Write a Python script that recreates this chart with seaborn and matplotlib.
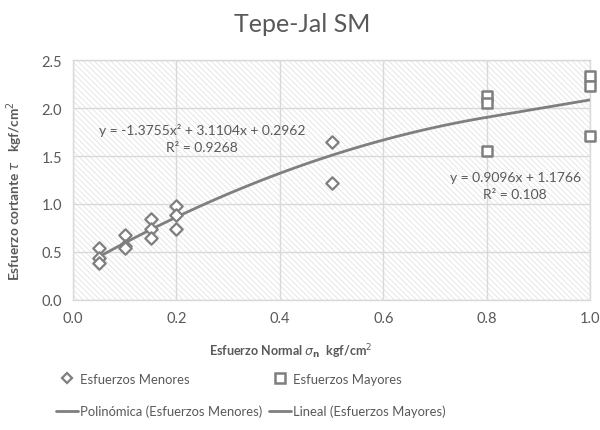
import numpy as np
import matplotlib
matplotlib.use("Agg")
import matplotlib.pyplot as plt
from matplotlib.patches import Rectangle
from matplotlib.lines import Line2D
import seaborn as sns

# ---- data ----
men_x = [0.05, 0.05, 0.05, 0.10, 0.10, 0.10, 0.15, 0.15, 0.15, 0.20, 0.20, 0.20, 0.50, 0.50]
men_y = [0.54, 0.44, 0.38, 0.68, 0.56, 0.54, 0.84, 0.74, 0.64, 0.98, 0.88, 0.74, 1.65, 1.22]
may_x = [0.8, 0.8, 0.8, 1.0, 1.0, 1.0]
may_y = [2.13, 2.05, 1.55, 2.33, 2.23, 1.71]
poly_coef = [-1.3755, 3.1104, 0.2962]
lin_coef = [0.9096, 1.1766]
poly_range = [0.05, 0.8]
lin_range = [0.8, 1.0]
x_ticks = [0.0, 0.2, 0.4, 0.6, 0.8, 1.0]
y_ticks = [0.0, 0.5, 1.0, 1.5, 2.0, 2.5]
title = "Tepe-Jal SM"
poly_label = "y = -1.3755x² + 3.1104x + 0.2962\nR² = 0.9268"
lin_label = "y = 0.9096x + 1.1766\nR² = 0.108"

sns.set_theme(style="white")
plt.rcParams['font.family'] = ['Lato', 'DejaVu Sans']
plt.rcParams['mathtext.fontset'] = 'dejavusans'
plt.rcParams['hatch.color'] = '#e3e3e3'
plt.rcParams['hatch.linewidth'] = 0.6

GRAY = '#7f7f7f'
TXT = '#595959'
GRID = '#d9d9d9'

fig = plt.figure(figsize=(6.0, 4.31), dpi=100)
ax = fig.add_axes([0.1217, 0.302, 0.862, 0.556])

ax.add_patch(Rectangle((0, 0), 1, 1, transform=ax.transAxes, facecolor='white',
                       edgecolor='#e3e3e3', hatch='\\\\\\\\\\\\', lw=0, zorder=0))

px = np.linspace(poly_range[0], poly_range[1], 100)
py = np.polyval(poly_coef, px)
lx = np.array(lin_range)
ly = np.polyval(lin_coef, lx)

sns.lineplot(x=px, y=py, ax=ax, color=GRAY, lw=2, zorder=3)
sns.lineplot(x=lx, y=ly, ax=ax, color=GRAY, lw=2, zorder=3)
sns.scatterplot(x=men_x, y=men_y, ax=ax, marker='D', s=40, facecolor='white',
                edgecolor=GRAY, linewidth=1.6, zorder=4, clip_on=False)
sns.scatterplot(x=may_x, y=may_y, ax=ax, marker='s', s=55, facecolor='white',
                edgecolor=GRAY, linewidth=1.8, zorder=4, clip_on=False)

ax.set_xlim(0, 1.0)
ax.set_ylim(0, 2.5)
ax.set_xticks(x_ticks)
ax.set_yticks(y_ticks)
ax.set_xticklabels([f"{v:.1f}" for v in x_ticks])
ax.set_yticklabels([f"{v:.1f}" for v in y_ticks])
ax.tick_params(colors=TXT, labelsize=10.5, length=0, pad=8)
ax.grid(True, color=GRID, lw=1, zorder=1)
ax.set_axisbelow(True)
for s in ax.spines.values():
    s.set_color(GRID)
    s.set_linewidth(1)

ax.set_xlabel(r"Esfuerzo Normal $\sigma_\mathbf{n}$  kgf/cm$^2$", color=TXT,
              fontsize=9, fontweight='bold')
ax.xaxis.set_label_coords(0.42, -0.175)
ax.set_ylabel(r"Esfuerzo cortante $\tau$   kgf/cm$^2$", color=TXT,
              fontsize=9.8, fontweight='bold')
ax.yaxis.set_label_coords(-0.093, 0.46)

fig.text(0.503, 0.942, title, ha='center', va='center', fontsize=18, color=TXT)

ax.text(0.25, 1.69, poly_label, ha='center', va='center', fontsize=10,
        color=TXT, linespacing=1.5, zorder=5)
ax.text(0.855, 1.19, lin_label, ha='center', va='center', fontsize=10,
        color=TXT, linespacing=1.5, zorder=5)

handles = [
    Line2D([], [], marker='D', ls='none', markersize=5.5, markerfacecolor='white',
           markeredgecolor=GRAY, markeredgewidth=1.6),
    Line2D([], [], color=GRAY, lw=2),
    Line2D([], [], marker='s', ls='none', markersize=6.5, markerfacecolor='white',
           markeredgecolor=GRAY, markeredgewidth=1.8),
    Line2D([], [], color=GRAY, lw=2),
]
labels = ["Esfuerzos Menores", "Polinómica (Esfuerzos Menores)",
          "Esfuerzos Mayores", "Lineal (Esfuerzos Mayores)"]
leg = fig.legend(handles, labels, ncol=2, loc='center', bbox_to_anchor=(0.418, 0.081),
                 frameon=False, fontsize=9.4, handlelength=1.75, handletextpad=0.15,
                 columnspacing=0.45, labelspacing=1.55, labelcolor=TXT)

fig.savefig("out.png", dpi=100)
